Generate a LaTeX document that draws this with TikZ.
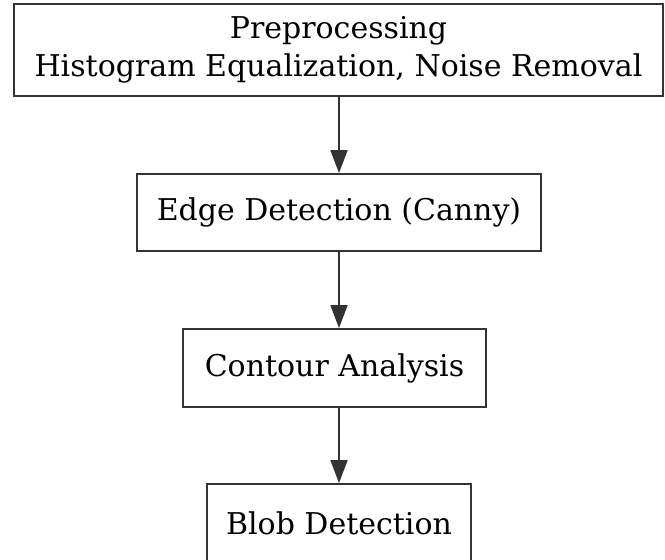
\documentclass[tikz,border=0pt]{standalone}
\usepackage{fontspec}
\setmainfont{DejaVu Serif}
\usetikzlibrary{arrows.meta}
\begin{document}
\begin{tikzpicture}[x=1pt,y=-1pt,
  stagebox/.style={draw=black!80, line width=1.8pt, rectangle, inner sep=0pt,
    font=\fontsize{30}{38}\selectfont, align=center},
  flow/.style={draw=black!80, line width=1.8pt,
    -{Triangle[length=23pt,width=17pt]}}]
  \useasboundingbox (0,0) rectangle (665,560);
  \clip (0,0) rectangle (665,560);
  \node[stagebox, minimum width=649pt, minimum height=92pt] (pre) at (338.5,50)
    {Preprocessing\\Histogram Equalization, Noise Removal};
  \node[stagebox, minimum width=404pt, minimum height=77pt] (edge) at (339,212.5)
    {Edge Detection (Canny)};
  \node[stagebox, minimum width=303pt, minimum height=78pt] (cont) at (334.5,368)
    {Contour Analysis};
  \node[stagebox, minimum width=264pt, minimum height=78pt] (blob) at (339,523)
    {Blob Detection};
  \draw[flow] (pre.south -| edge.north) -- (edge.north);
  \draw[flow] (edge.south) -- (edge.south |- cont.north);
  \draw[flow] (edge.south |- cont.south) -- (blob.north);
\end{tikzpicture}
\end{document}
